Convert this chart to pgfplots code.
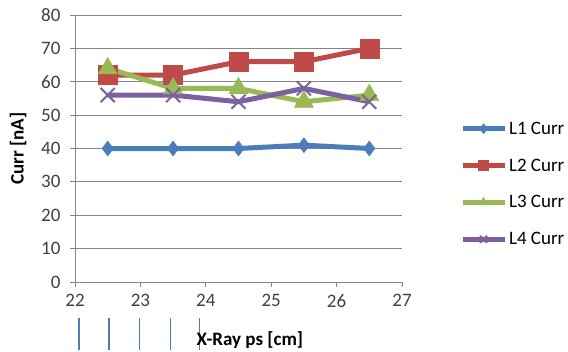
\documentclass[border=0pt]{standalone}
\usepackage{pgfplots}
\pgfplotsset{compat=1.18}
\usepackage{fontspec}
\setmainfont{Carlito}
\definecolor{c1}{HTML}{4A7EBB}
\definecolor{c2}{HTML}{BE4B48}
\definecolor{c3}{HTML}{98B954}
\definecolor{c4}{HTML}{7D60A0}
\definecolor{gridc}{HTML}{868686}
\definecolor{txt}{HTML}{404040}
\begin{document}
\begin{tikzpicture}
\useasboundingbox (-75pt,-69pt) rectangle (493pt,282pt);
\begin{axis}[
  scale only axis, width=327pt, height=267pt,
  at={(0,0)}, anchor=south west,
  xmin=22, xmax=27, ymin=0, ymax=80,
  xtick={22,23,...,27}, ytick={0,10,...,80},
  axis lines=left, axis line style={-, gridc, line width=0.8pt},
  tick style={gridc, line width=0.8pt}, tick align=outside, major tick length=5pt,
  ymajorgrids, grid style={gridc, line width=0.8pt},
  /pgf/number format/assume math mode=true,
  tick label style={font=\fontsize{19}{21}\selectfont, text=txt},
  xticklabel style={yshift=-4pt},
  yticklabel style={xshift=-6pt},
  xlabel={\textbf{X-Ray ps [cm]}}, ylabel={\textbf{Curr [nA]}},
  label style={font=\fontsize{19}{21}\selectfont},
  xlabel style={at={(axis description cs:0.535,-0.217)}, anchor=center},
  ylabel style={at={(axis description cs:-0.174,0.5)}, anchor=center},
  clip=false,
  legend style={at={(1.177,0.367)}, anchor=west, draw=none, fill=none,
    font=\fontsize{19}{21}\selectfont, row sep=19pt, inner sep=0pt},
  legend cell align=left,
  legend image code/.code={\draw[mark repeat=2,mark phase=2,mark size=5pt] plot coordinates {(0pt,0pt)(21pt,0pt)(42pt,0pt)};},
]
\addplot[c1, line width=5pt, mark=diamond*, mark size=7.5pt, mark options={line width=0.5pt}] coordinates {(22.5,40)(23.5,40)(24.5,40)(25.5,41)(26.5,40)};
\addlegendentry{L1 Curr}
\addplot[c2, line width=5pt, mark=square*, mark size=9.5pt, mark options={line width=0.5pt}] coordinates {(22.5,62)(23.5,62)(24.5,66)(25.5,66)(26.5,70)};
\addlegendentry{L2 Curr}
\addplot[c3, line width=5pt, mark=triangle*, mark size=11pt, mark options={line width=0.5pt}] coordinates {(22.5,64)(23.5,58)(24.5,58)(25.5,54)(26.5,56)};
\addlegendentry{L3 Curr}
\addplot[c4, line width=5pt, mark=x, mark size=10pt, mark options={line width=2pt}] coordinates {(22.5,56)(23.5,56)(24.5,54)(25.5,58)(26.5,54)};
\addlegendentry{L4 Curr}
\addplot[forget plot, c1, line width=1.4pt] coordinates {(22.06,-10.8)(22.06,-20.4)};
\addplot[forget plot, c1, line width=1.4pt] coordinates {(22.52,-10.8)(22.52,-20.4)};
\addplot[forget plot, c1, line width=1.4pt] coordinates {(22.99,-10.8)(22.99,-20.4)};
\addplot[forget plot, c1, line width=1.4pt] coordinates {(23.46,-10.8)(23.46,-20.4)};
\addplot[forget plot, c1, line width=1.4pt] coordinates {(23.90,-10.8)(23.90,-20.4)};
\end{axis}
\end{tikzpicture}
\end{document}
